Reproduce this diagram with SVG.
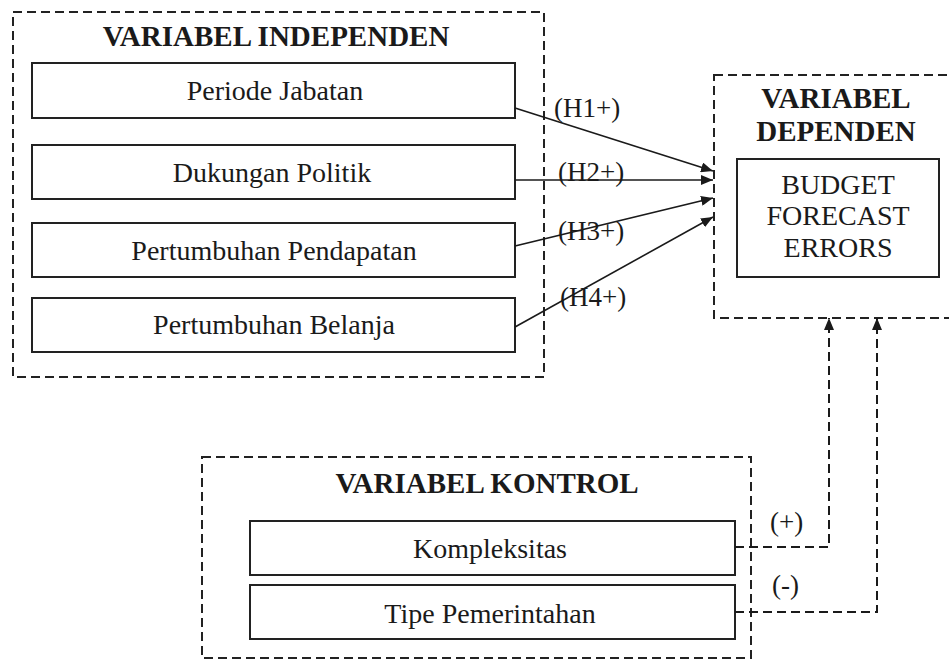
<svg xmlns="http://www.w3.org/2000/svg" width="949" height="661" viewBox="0 0 949 661">
<style>
.grp{fill:none;stroke:#222;stroke-width:2;stroke-dasharray:9 5}
.box{fill:#fff;stroke:#222;stroke-width:2}
text{font-family:'Liberation Serif','Times New Roman',serif;fill:#1a1a1a}
.t{font-size:28px;text-anchor:middle}
.h{font-size:29px;font-weight:bold;text-anchor:middle}
.l{font-size:27px}
.c{fill:none;stroke:#1a1a1a;stroke-width:1.6}
.cd{fill:none;stroke:#1a1a1a;stroke-width:2;stroke-dasharray:9 5}
</style>
<defs>
<marker id="ah" viewBox="0 0 12 10" refX="12" refY="5" markerWidth="12" markerHeight="10" markerUnits="userSpaceOnUse" orient="auto">
<path d="M0,0 L12,5 L0,10 z" fill="#1a1a1a"/>
</marker>
</defs>
<rect width="949" height="661" fill="#fff"/>

<g id="independen">
<rect class="grp" x="13" y="12" width="531" height="365"/>
<text class="h" x="276" y="46">VARIABEL INDEPENDEN</text>
</g>
<g id="periode">
<rect class="box" x="32" y="63" width="483" height="55"/>
<text class="t" x="275" y="100">Periode Jabatan</text>
</g>
<g id="dukungan">
<rect class="box" x="32" y="145" width="483" height="54"/>
<text class="t" x="272" y="182">Dukungan Politik</text>
</g>
<g id="pendapatan">
<rect class="box" x="32" y="223" width="483" height="54"/>
<text class="t" x="274" y="260">Pertumbuhan Pendapatan</text>
</g>
<g id="belanja">
<rect class="box" x="32" y="298" width="483" height="54"/>
<text class="t" x="274" y="334">Pertumbuhan Belanja</text>
</g>

<g id="dependen">
<rect class="grp" x="714" y="75" width="250" height="243"/>
<text class="h" x="836" y="108">VARIABEL</text>
<text class="h" x="836" y="141">DEPENDEN</text>
</g>
<g id="bfe">
<rect class="box" x="737" y="159" width="202" height="118"/>
<text class="t" x="838" y="194">BUDGET</text>
<text class="t" x="838" y="225">FORECAST</text>
<text class="t" x="838" y="257">ERRORS</text>
</g>

<g id="kontrol">
<rect class="grp" x="202" y="457" width="549" height="201"/>
<text class="h" x="487" y="493">VARIABEL KONTROL</text>
</g>
<g id="kompleksitas">
<rect class="box" x="250" y="521" width="485" height="54"/>
<text class="t" x="490" y="558">Kompleksitas</text>
</g>
<g id="tipe">
<rect class="box" x="250" y="585" width="485" height="54"/>
<text class="t" x="490" y="623">Tipe Pemerintahan</text>
</g>

<g id="connectors">
<line class="c" x1="515" y1="108" x2="713" y2="171" marker-end="url(#ah)"/>
<line class="c" x1="515" y1="180" x2="713" y2="180" marker-end="url(#ah)"/>
<line class="c" x1="515" y1="246" x2="713" y2="198" marker-end="url(#ah)"/>
<line class="c" x1="515" y1="327" x2="713" y2="217" marker-end="url(#ah)"/>
<text class="l" x="554" y="117">(H1+)</text>
<text class="l" x="558" y="181">(H2+)</text>
<text class="l" x="558" y="240">(H3+)</text>
<text class="l" x="560" y="306">(H4+)</text>
<polyline class="cd" points="735,547 829,547 829,318" marker-end="url(#ah)"/>
<polyline class="cd" points="735,612 877,612 877,318" marker-end="url(#ah)"/>
<text class="l" x="770" y="531">(+)</text>
<text class="l" x="772" y="594">(-)</text>
</g>
</svg>
